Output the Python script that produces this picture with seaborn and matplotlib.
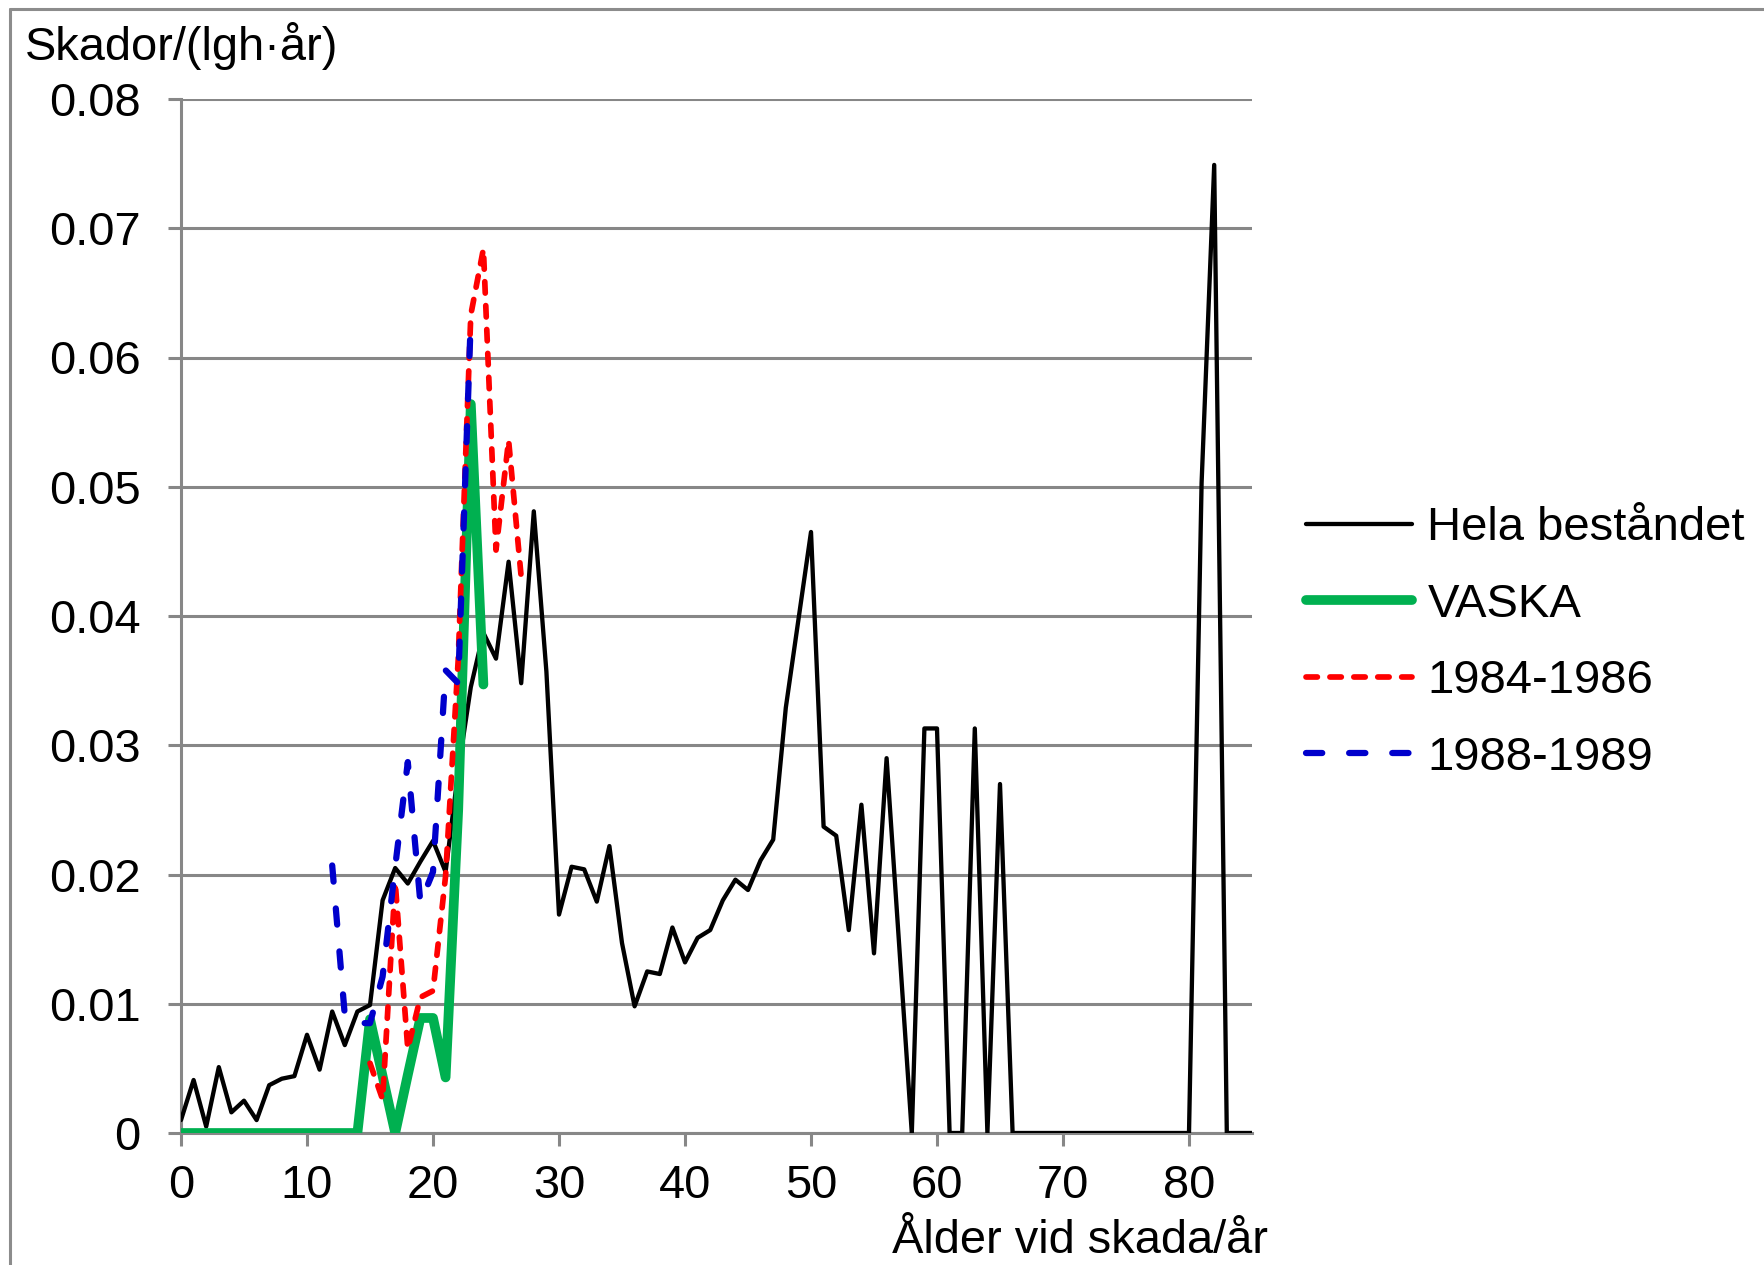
import matplotlib
matplotlib.use("Agg")
import matplotlib.pyplot as plt
from matplotlib.lines import Line2D
from matplotlib.ticker import FuncFormatter
import numpy as np
import pandas as pd
import seaborn as sns

# ages and values
hela_age = list(range(0, 86))
hela_val = [0.001, 0.0041, 0.0005, 0.0051, 0.0016, 0.0025, 0.001, 0.0037, 0.0042, 0.0044,
            0.0076, 0.0049, 0.0094, 0.0068, 0.0094, 0.0099, 0.018, 0.0205, 0.0193, 0.021,
            0.0226, 0.0202, 0.028, 0.0345, 0.0387, 0.0367, 0.0442, 0.0348, 0.0481, 0.0357,
            0.0169, 0.0206, 0.0204, 0.0179, 0.0222, 0.0147, 0.0098, 0.0125, 0.0123, 0.0159,
            0.0132, 0.0151, 0.0157, 0.018, 0.0196, 0.0188, 0.0211, 0.0227, 0.0329, 0.0397,
            0.0465, 0.0237, 0.023, 0.0157, 0.0254, 0.0139, 0.029, 0.0145, 0.0, 0.0313,
            0.0313, 0.0, 0.0, 0.0313, 0.0, 0.027, 0.0, 0.0, 0.0, 0.0,
            0.0, 0.0, 0.0, 0.0, 0.0, 0.0, 0.0, 0.0, 0.0, 0.0,
            0.0, 0.0503, 0.0749, 0.0, 0.0, 0.0]

vaska_age = list(range(0, 25))
vaska_val = [0.0] * 15 + [0.0088, 0.0044, 0.0, 0.0045, 0.0089, 0.0089, 0.0043, 0.025, 0.0564, 0.0347]

p8486_age = list(range(15, 28))
p8486_val = [0.0054, 0.0026, 0.0194, 0.0065, 0.0105, 0.011, 0.0199, 0.0366, 0.0633, 0.0684,
             0.0451, 0.0536, 0.043]

p8889_age = list(range(12, 24))
p8889_val = [0.0207, 0.0091, 0.0085, 0.0085, 0.0121, 0.0206, 0.0287, 0.0178, 0.0202, 0.0358,
             0.0348, 0.063]

x_ticks = list(range(0, 90, 10))
y_ticks = [0.0, 0.01, 0.02, 0.03, 0.04, 0.05, 0.06, 0.07, 0.08]

sns.set_style("white")
plt.rcParams['font.family'] = ['Liberation Sans', 'DejaVu Sans']
plt.rcParams['text.color'] = 'black'

GRAY = '#878787'
FS = 33.8

fig = plt.figure(figsize=(17.65, 12.65), dpi=100)
ax = fig.add_axes([181 / 1765, 1 - 1133 / 1265, (1252 - 181) / 1765, (1133 - 99) / 1265])

sns.lineplot(x=hela_age, y=hela_val, ax=ax, color='black', lw=3.1, label='Hela beståndet',
             solid_joinstyle='round', solid_capstyle='round', zorder=3)
sns.lineplot(x=vaska_age, y=vaska_val, ax=ax, color='#00b050', lw=7.0, label='VASKA',
             solid_joinstyle='round', solid_capstyle='round', zorder=4)
sns.lineplot(x=p8486_age, y=p8486_val, ax=ax, color='#ff0000', lw=4.1, label='1984-1986',
             linestyle=(0, (2.0, 2.2)), dash_capstyle='round', dash_joinstyle='round', zorder=5)
sns.lineplot(x=p8889_age, y=p8889_val, ax=ax, color='#0000cc', lw=4.5, label='1988-1989',
             linestyle=(0, (2.6, 4.3)), dash_capstyle='round', dash_joinstyle='round', zorder=6)

ax.set_xlim(0, 85)
ax.set_ylim(0, 0.08)
ax.set_xticks(x_ticks)
ax.set_yticks(y_ticks)
ax.yaxis.set_major_formatter(FuncFormatter(lambda v, p: f'{v:g}'))
ax.set_xlabel('')
ax.set_ylabel('')

ax.grid(axis='y', color=GRAY, lw=2.2)
ax.grid(axis='x', visible=False)
ax.set_axisbelow(True)
for s in ['top', 'right']:
    ax.spines[s].set_visible(False)
for s in ['left', 'bottom']:
    ax.spines[s].set_color(GRAY)
    ax.spines[s].set_linewidth(2.2)
    ax.spines[s].set_zorder(1)
ax.tick_params(axis='both', which='major', direction='out', length=9.5, width=2.2,
               color=GRAY, labelsize=FS, labelcolor='black')
ax.tick_params(axis='y', pad=19.5)
ax.tick_params(axis='x', pad=12.5)
ax.tick_params(left=True, bottom=True)

handles, labels = ax.get_legend_handles_labels()
ax.get_legend().remove()
fig.legend(handles, labels, loc='center left', bbox_to_anchor=(1306 / 1765, 1 - 643 / 1265),
           frameon=False, fontsize=34, handlelength=2.25, handletextpad=0.32,
           labelspacing=0.69, borderpad=0, borderaxespad=0)

fig.text(25 / 1765, 1 - 60 / 1265, 'Skador/(lgh·år)', fontsize=FS, ha='left', va='baseline')
fig.text(1268 / 1765, 1 - 1253 / 1265, 'Ålder vid skada/år', fontsize=FS, ha='right', va='baseline')

# outer frame (only top and left edges are visible in the reference)
fig.add_artist(Line2D([10 / 1765, 1], [1 - 9 / 1265, 1 - 9 / 1265], color='#8c8c8c', lw=2.2,
                      transform=fig.transFigure))
fig.add_artist(Line2D([10 / 1765, 10 / 1765], [0, 1 - 9 / 1265], color='#8c8c8c', lw=2.2,
                      transform=fig.transFigure))

fig.savefig('out.png', dpi=100)
